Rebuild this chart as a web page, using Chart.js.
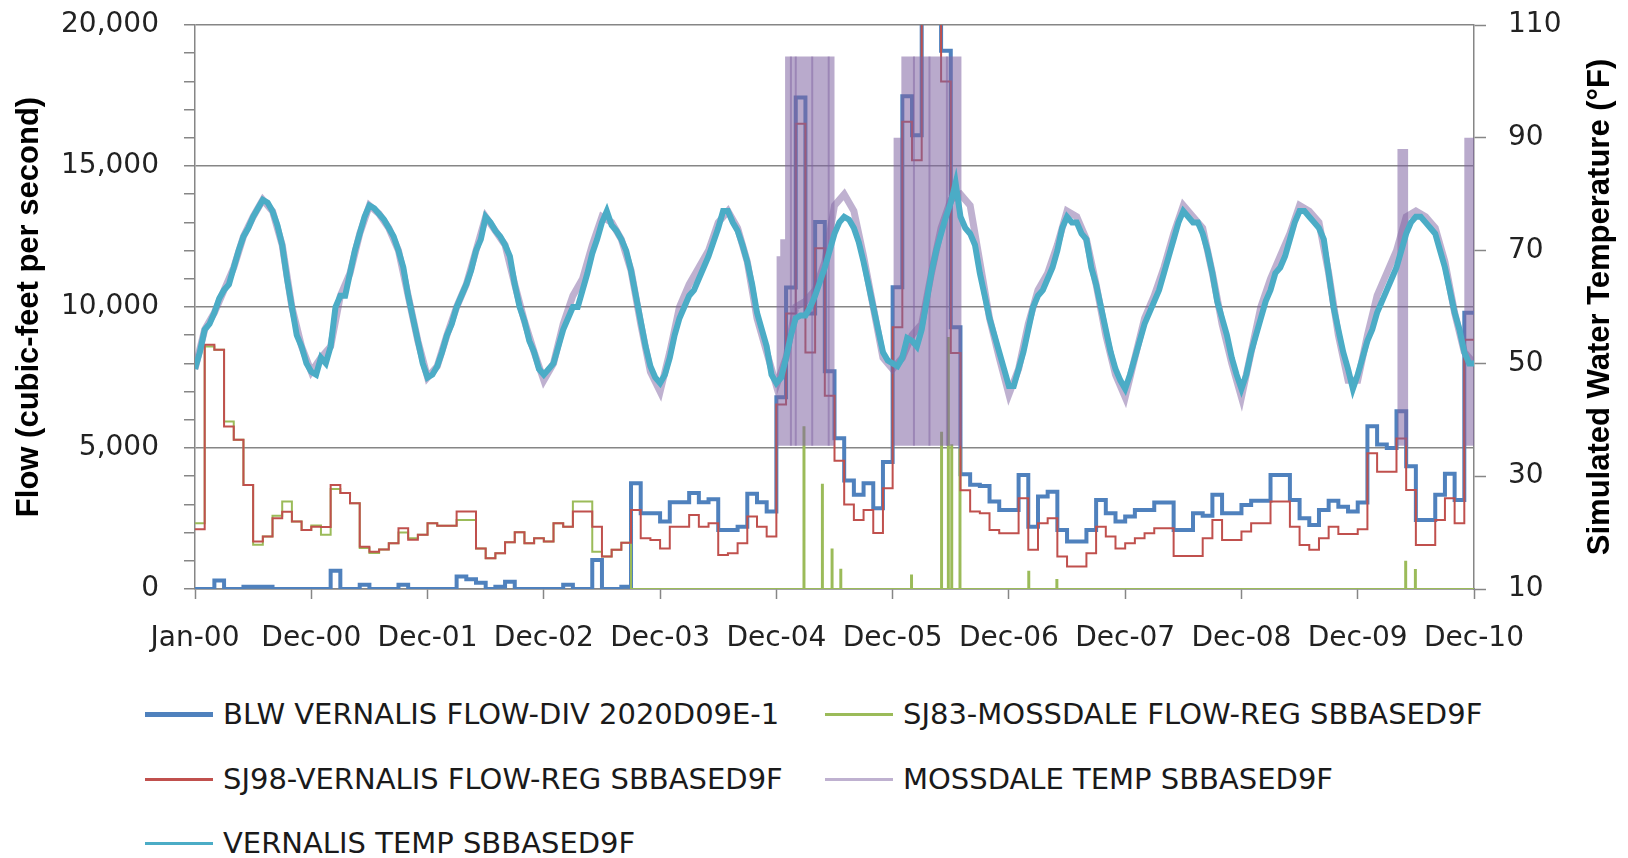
<!DOCTYPE html>
<html lang="en">
<head>
<meta charset="UTF-8">
<title>Vernalis flow and simulated water temperature</title>
<script src="https://cdn.jsdelivr.net/npm/chart.js"></script>
<style>
  body { margin: 0; background: #fff; font-family: 'DejaVu Sans', sans-serif; }
  #page { position: relative; width: 1628px; height: 858px; overflow: hidden; }
  #plot { position: absolute; left: 0; top: 0; width: 1628px; height: 680px; }
  .key { position: absolute; height: 34px; display: flex; align-items: center;
         font-size: 29px; color: #1a1a1a; white-space: nowrap; }
  .key i { display: inline-block; width: 68px; margin-right: 10px; }
</style>
</head>
<body>
<div id="page">
  <div id="plot"><canvas id="chart"></canvas></div>
  <div id="legend"></div>
</div>
<script>
// x axis is in months from Jan-00; a label every 12 months
const tickLabels = ['Jan-00', 'Dec-00', 'Dec-01', 'Dec-02', 'Dec-03', 'Dec-04',
                    'Dec-05', 'Dec-06', 'Dec-07', 'Dec-08', 'Dec-09', 'Dec-10'];

// monthly flows (cfs), one value per month starting Jan-00
const blwVernalisFlow = [
  0, 0, 300, 0, 0, 80, 80, 80, 0, 0, 0, 0,
  0, 0, 650, 0, 0, 150, 0, 0, 0, 150, 0, 0,
  0, 0, 0, 440, 350, 220, 0, 80, 260, 0, 0, 0,
  0, 0, 150, 0, 0, 1030, 0, 0, 80, 3750, 2690, 2690,
  2390, 3075, 3075, 3400, 3075, 3180, 2090, 2090, 2210, 3380, 3075, 2745,
  6800, 10690, 17425, 9770, 13010, 7725, 5350, 3850, 3340, 3750, 2860, 4500,
  10700, 17470, 16090, 22000, 22000, 19090, 9280, 4070, 3700, 3650, 3100, 2800,
  2800, 4040, 2210, 3280, 3450, 2090, 1680, 1680, 2090, 3160, 2690, 2390,
  2570, 2800, 2800, 3070, 3070, 2090, 2090, 2690, 2600, 3340, 2690, 2690,
  2980, 3130, 3130, 4040, 4040, 3160, 2510, 2270, 2800, 3130, 2920, 2745,
  3070, 5770, 5120, 5000, 6300, 4350, 2450, 2450, 3340, 4090, 3160, 9800
];
const sj98VernalisFlow = [
  2120, 8660, 8480, 5760, 5290, 3690, 1680, 1860, 2510, 2740, 2390, 2090,
  2210, 2200, 3690, 3400, 3040, 1500, 1320, 1400, 1620, 2150, 1750, 1920,
  2330, 2240, 2240, 2750, 2750, 1440, 1090, 1270, 1660, 2010, 1620, 1800,
  1680, 2330, 2210, 2750, 2750, 2210, 1150, 1390, 1640, 2800, 1800, 1740,
  1440, 2210, 2210, 2620, 2210, 2330, 1210, 1270, 1620, 2570, 2210, 1860,
  6540, 9770, 16500, 8390, 12080, 6850, 4550, 3000, 2450, 2800, 1990, 3570,
  9280, 16570, 15200, 21500, 21500, 18000, 8365, 3500, 2745, 2690, 2090, 1975,
  1975, 3220, 1390, 2330, 2510, 1150, 800, 800, 1270, 2210, 1860, 1440,
  1620, 1800, 1975, 2150, 2150, 1170, 1170, 1170, 1800, 2450, 1740, 1740,
  2040, 2330, 2330, 3100, 3100, 2210, 1560, 1390, 1800, 2210, 1950, 1950,
  2120, 4810, 4160, 4160, 5340, 3510, 1560, 1560, 2450, 3220, 2330, 8840
];
// Mossdale flow: monthly until it drops to zero, then short daily spikes
const sj83MossdaleFlow = [
  2330, 8600, 8480, 5940, 5290, 3690, 1570, 1860, 2600, 3100, 2390, 2090,
  2250, 1920, 3550, 3400, 3040, 1450, 1280, 1400, 1620, 2000, 1800, 1920,
  2330, 2240, 2240, 2450, 2450, 1440, 1090, 1270, 1660, 2010, 1620, 1800,
  1680, 2330, 2210, 3100, 3100, 1320, 1150, 1390, 1640, 0
];
const sj83SpikeMonths = [62.8, 64.7, 65.7, 66.6, 73.9, 77.0, 77.7, 78.05, 78.9, 86.0, 88.9, 124.9, 125.9];
const sj83SpikeFlows  = [5740, 3700, 1400, 680, 480, 5540, 8900, 5100, 4950, 615, 320, 970, 670];

// Vernalis temperature (deg F), every half month from Jan-00
const vernalisTemp = [
  49, 52, 56, 57, 59, 61.5, 63, 64, 67, 70, 72.5, 74, 76, 77.5, 79, 78.5, 77, 74.5, 71, 65, 60, 55, 53, 50,
  48.5, 48, 51, 50, 53, 60, 62, 62, 66, 70, 73, 76, 78, 77.5, 76.5, 75.5, 74, 72.5, 70, 67, 62, 58, 54, 50,
  47.5, 48, 49.5, 52, 55, 57, 60, 62, 64, 66.5, 70, 72, 76, 75, 73.5, 72.5, 71, 69, 64, 60, 57.5, 54, 52, 49,
  48, 49, 50, 53, 56, 58, 60, 60, 63, 66, 69.5, 72, 75, 77, 74.5, 73.5, 72, 70, 66.5, 62, 57.5, 53, 49.5, 47.5,
  46.5, 48, 51, 55, 58, 60, 62, 63, 65, 67, 69, 71.5, 74, 77, 77, 75, 73.5, 71, 68, 64, 59, 56, 53, 48,
  46.5, 47.5, 51, 55, 58, 58.5, 58.5, 60, 62, 64.5, 67, 70, 73, 75, 76, 75.5, 74, 71.5, 68, 64, 60, 56, 52, 50.5,
  50, 49.5, 51, 54.5, 54, 53, 56, 61, 66, 70, 73, 76, 78.5, 82, 76, 74, 73, 71, 66, 62, 58, 55, 52, 49,
  46, 46, 49, 52, 56, 60, 62, 63, 65, 67, 70, 74, 76, 75, 75, 73, 72, 67, 64, 60, 56, 52, 49, 47,
  45.5, 48, 51, 54, 57, 59, 61, 63, 66, 69, 72, 75, 77, 76, 75, 75, 73, 70, 66, 61, 58, 55, 51, 48,
  45.5, 48, 52, 55, 58, 61, 63, 66, 67, 69, 72, 75, 77, 77, 76, 75, 74, 72, 66, 60, 56, 52, 49, 45.5,
  48, 51, 54, 56, 59, 61, 63, 65, 67, 70, 73, 75, 76, 76, 75, 74, 73, 70, 67, 63, 59, 56, 52, 50,
  50
];
// Mossdale temperature (deg F), monthly from Jan-00
const mossdaleTemp = [
  49, 56, 59, 63, 67, 72.5, 76, 79, 77, 71, 60, 53,
  48.5, 51, 53, 62, 66, 73, 78, 76.5, 74, 70, 62, 54,
  47.5, 49.5, 55, 60, 64, 70, 76, 73.5, 71, 64, 57.5, 52,
  47, 50, 57, 62, 65, 71, 76, 75, 72, 66.5, 57, 48.5,
  45, 52, 60, 64, 67, 70, 75, 77, 74, 68, 58, 52,
  46, 51, 60, 61, 63, 68, 78, 80, 77, 69, 60, 51,
  49, 51, 55, 57, 66, 74, 79, 80, 78, 68, 58, 51,
  44.5, 49, 57, 63, 66, 71, 77, 76, 72, 64, 55, 48,
  44, 51, 58, 62, 67, 73, 78, 76, 74, 66, 57, 50,
  44, 52, 60, 65, 69, 73, 78, 77, 75, 66, 55, 47,
  47, 55, 62, 66, 70, 76, 77, 76, 74, 68, 59, 52,
  50
];
// periods where the Mossdale temperature swings between its extremes
const mossBurstMonths = [60.0, 60.4, 60.9, 66.0, 72.1, 72.9, 79.1, 124.1, 125.2, 131.0, 132.0];
const mossBurstTemps  = [69, 72, 104.4, 35.4, 90, 104.4, 35.4, 88, 35.4, 90, 90];
const mossBurstFloor = 35.4;
const mossBurstTop = 104.4;
// days inside those periods where the swing shows as a darker streak
const mossStreakMonths = [61.5, 62.0, 63.7, 65.4, 74.2, 75.8, 77.6];

const GRID = '#868686';
const TEXT = '#222';
const PURPLE = 'rgba(128,100,162,0.5)';
Chart.defaults.font.family = "'DejaVu Sans', sans-serif";

function monthlySteps(values) {
  const pts = values.map((v, i) => ({ x: i, y: v }));
  pts.push({ x: values.length, y: values[values.length - 1] });
  return pts;
}

const mossdaleFlowPts = sj83MossdaleFlow.map((v, i) => ({ x: i, y: v }));
sj83SpikeMonths.forEach((m, k) => {
  mossdaleFlowPts.push({ x: m, y: sj83SpikeFlows[k] }, { x: m + 0.1, y: 0 });
});
mossdaleFlowPts.push({ x: 132, y: 0 });

const streakPts = [];
mossStreakMonths.forEach(m => {
  streakPts.push({ x: m, y: mossBurstFloor }, { x: m, y: mossBurstTop }, { x: m, y: null });
});

const series = [
  { label: 'BLW VERNALIS FLOW-DIV 2020D09E-1', color: '#4F81BD', width: 4,
    data: monthlySteps(blwVernalisFlow), axis: 'y', stepped: true },
  { label: 'SJ83-MOSSDALE FLOW-REG SBBASED9F', color: '#9BBB59', width: 2,
    data: mossdaleFlowPts, axis: 'y', stepped: true },
  { label: 'SJ98-VERNALIS FLOW-REG SBBASED9F', color: '#C0504D', width: 2,
    data: monthlySteps(sj98VernalisFlow), axis: 'y', stepped: true },
  { label: 'MOSSDALE TEMP SBBASED9F', color: PURPLE, width: 7,
    data: mossdaleTemp.map((v, i) => ({ x: i, y: v })), axis: 'y1', stepped: false },
  { label: 'VERNALIS TEMP SBBASED9F', color: '#4BACC6', width: 6,
    data: vernalisTemp.map((v, i) => ({ x: i / 2, y: v })), axis: 'y1', stepped: false }
];
const drawOrder = [6, 4, 3, 2, 0];   // lower is drawn on top

const datasets = series.map((s, i) => ({
  label: s.label, data: s.data, yAxisID: s.axis, stepped: s.stepped,
  borderColor: s.color, backgroundColor: s.color, borderWidth: s.width,
  pointRadius: 0, fill: false, tension: 0, order: drawOrder[i]
}));
datasets.push({
  label: 'mossdale swings', data: mossBurstMonths.map((m, i) => ({ x: m, y: mossBurstTemps[i] })),
  yAxisID: 'y1', stepped: true, borderColor: 'rgba(0,0,0,0)', borderWidth: 1,
  backgroundColor: 'rgba(128,100,162,0.55)', pointRadius: 0,
  fill: { value: mossBurstFloor }, order: 1
});
datasets.push({
  label: 'mossdale streaks', data: streakPts, yAxisID: 'y1', spanGaps: false,
  borderColor: PURPLE, borderWidth: 2, pointRadius: 0, fill: false, order: 1
});

const rightTitle = {
  id: 'rightTitle',
  afterDraw(chart) {
    const { ctx, chartArea } = chart;
    ctx.save();
    ctx.translate(chart.width - 28, (chartArea.top + chartArea.bottom) / 2);
    ctx.rotate(-Math.PI / 2);
    ctx.font = "bold 31px 'Liberation Sans', sans-serif";
    ctx.fillStyle = '#000';
    ctx.textAlign = 'center';
    ctx.textBaseline = 'middle';
    ctx.fillText('Simulated Water Temperature (°F)', 0, 0);
    ctx.restore();
  }
};

// fixed axis sizes so the plot area sits where the original has it
function fixSize(size) {
  return s => {
    if (s.isHorizontal()) { s.height = size; } else { s.width = size; }
    s.paddingTop = 0; s.paddingBottom = 0; s.paddingLeft = 0; s.paddingRight = 0;
  };
}

new Chart(document.getElementById('chart'), {
  type: 'line',
  data: { datasets },
  options: {
    responsive: true,
    maintainAspectRatio: false,
    animation: false,
    devicePixelRatio: 1,
    layout: { padding: { top: 25, left: 0, right: 0, bottom: 0 } },
    plugins: { legend: { display: false }, tooltip: { enabled: false } },
    scales: {
      x: {
        type: 'linear', min: 0, max: 132,
        afterFit: fixSize(91),
        afterBuildTicks: s => { s.ticks = tickLabels.map((_, i) => ({ value: i * 12 })); },
        ticks: { autoSkip: false, maxRotation: 0, padding: 23, color: TEXT, font: { size: 28 },
                 callback: v => tickLabels[Math.round(v / 12)] },
        grid: { drawOnChartArea: false, tickLength: 10, tickColor: GRID, tickWidth: 1.5 },
        border: { color: GRID, width: 1.5 }
      },
      y: {
        position: 'left', min: 0, max: 20000,
        afterFit: fixSize(195),
        ticks: { stepSize: 1000, autoSkip: false, padding: 25, color: TEXT, font: { size: 28 },
                 callback: v => (v % 5000 === 0 ? v.toLocaleString('en-US') : '') },
        grid: { color: c => (c.tick && c.tick.value % 5000 === 0 ? GRID : 'rgba(0,0,0,0)'),
                lineWidth: 1.5, tickLength: 11, tickColor: GRID, tickWidth: 1.5 },
        border: { color: GRID, width: 1.5 },
        title: { display: true, text: 'Flow (cubic-feet per second)', color: '#000',
                 font: { family: "'Liberation Sans', sans-serif", size: 31, weight: 'bold' },
                 padding: { top: 11, bottom: 0 } }
      },
      y1: {
        position: 'right', min: 10, max: 110,
        afterFit: fixSize(154),
        ticks: { stepSize: 20, padding: 22, color: TEXT, font: { size: 28 } },
        grid: { drawOnChartArea: false, tickLength: 12, tickColor: GRID, tickWidth: 1.5 },
        border: { color: GRID, width: 1.5 }
      }
    }
  },
  plugins: [rightTitle]
});

// legend laid out in two columns like the original
const legendSlots = [[145, 697], [825, 697], [145, 762], [825, 762], [145, 826]];
const legendBox = document.getElementById('legend');
series.forEach((s, i) => {
  const item = document.createElement('div');
  item.className = 'key';
  item.style.left = legendSlots[i][0] + 'px';
  item.style.top = legendSlots[i][1] + 'px';
  const swatch = document.createElement('i');
  swatch.style.height = (i === 0 ? 5 : 3) + 'px';
  swatch.style.background = s.color;
  item.appendChild(swatch);
  item.appendChild(document.createTextNode(s.label));
  legendBox.appendChild(item);
});
</script>
</body>
</html>
